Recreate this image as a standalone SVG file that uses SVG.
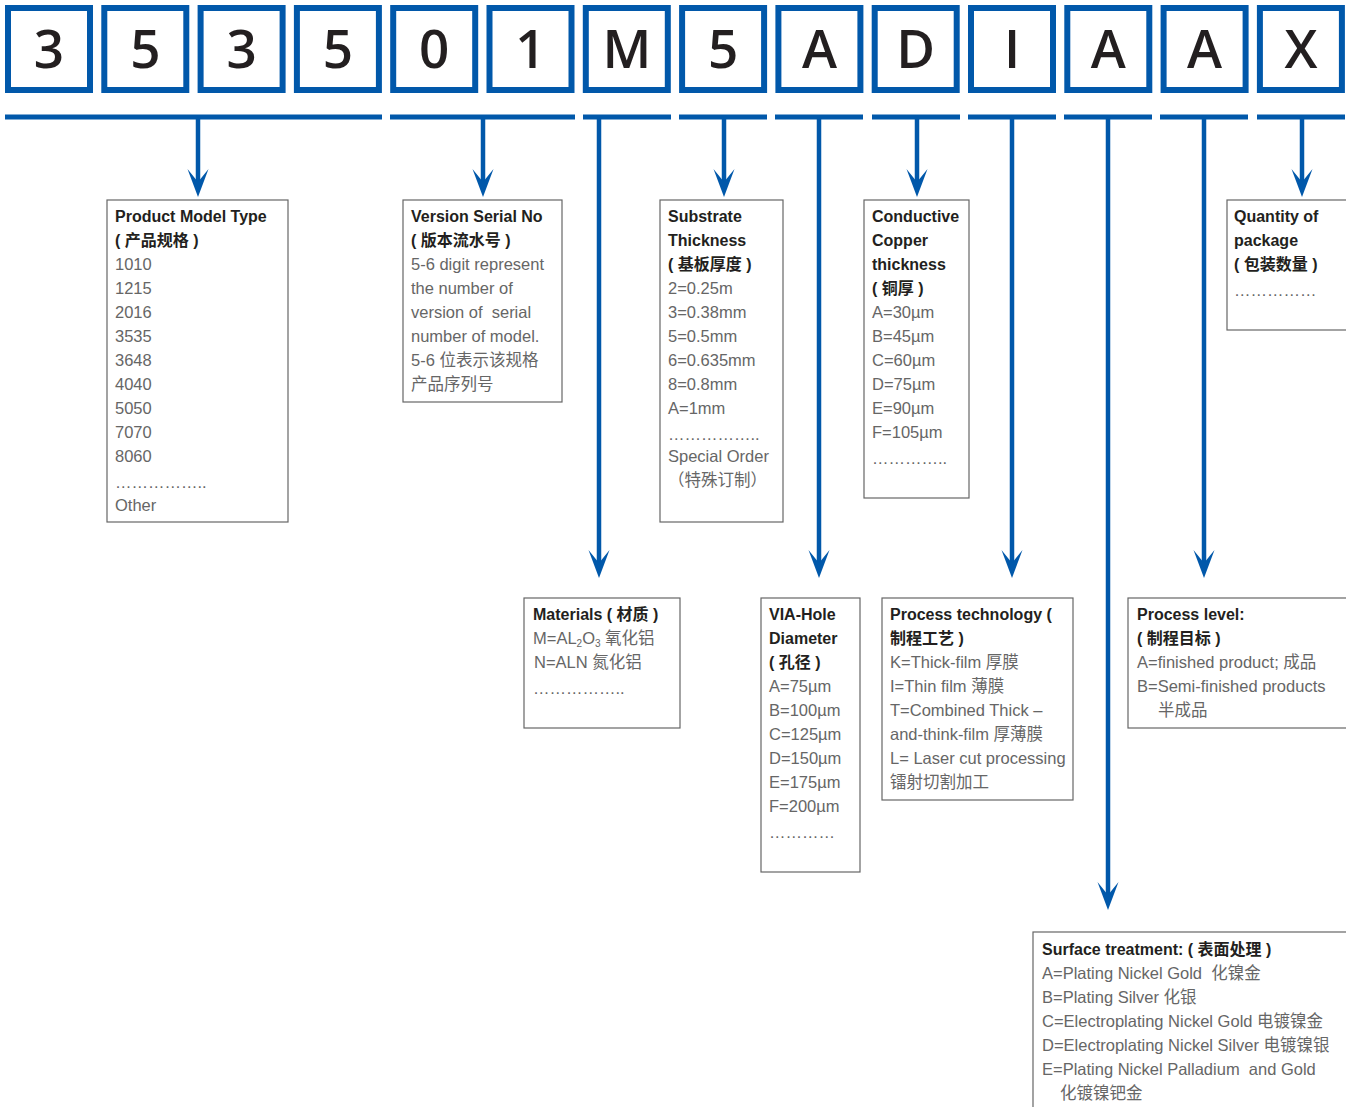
<svg xmlns="http://www.w3.org/2000/svg" width="1346" height="1107" viewBox="0 0 1346 1107">
<defs>
<style>
.code rect{fill:#fff;stroke:#0158aa;stroke-width:6}
.code text{font-family:"Open Sans","Liberation Sans",sans-serif;font-weight:600;font-size:53px;fill:#231f20;text-anchor:middle}
.bar{stroke:#0158aa;stroke-width:5;fill:none}
.vl{stroke:#0158aa;stroke-width:4.5;fill:none;marker-end:url(#ah)}
.box rect{fill:#fff;stroke:#666;stroke-width:1.2}
.t{font-family:"Liberation Sans","Noto Sans CJK SC",sans-serif;font-weight:bold;font-size:16px;fill:#231f20;white-space:pre}
.b{font-family:"Liberation Sans","Noto Sans CJK SC",sans-serif;font-size:16.5px;fill:#666;white-space:pre}
</style>
<marker id="ah" markerUnits="userSpaceOnUse" markerWidth="30" markerHeight="24" viewBox="-29 -12 30 24" refX="-15" refY="0" orient="auto">
<path d="M0,0 L-28,-10.5 L-15,0 L-28,10.5 Z" fill="#0158aa"/>
</marker>
</defs>

<g id="code">
<g class="code">
<rect x="8" y="8" width="82" height="82"/><text x="49" y="68">3</text>
<rect x="104.3" y="8" width="82" height="82"/><text x="145.3" y="68">5</text>
<rect x="200.6" y="8" width="82" height="82"/><text x="241.6" y="68">3</text>
<rect x="296.9" y="8" width="82" height="82"/><text x="337.9" y="68">5</text>
<rect x="393.2" y="8" width="82" height="82"/><text x="434.2" y="68">0</text>
<rect x="489.5" y="8" width="82" height="82"/><text x="530.5" y="68">1</text>
<rect x="585.8" y="8" width="82" height="82"/><text x="626.8" y="68">M</text>
<rect x="682.1" y="8" width="82" height="82"/><text x="723.1" y="68">5</text>
<rect x="778.4" y="8" width="82" height="82"/><text x="819.4" y="68">A</text>
<rect x="874.7" y="8" width="82" height="82"/><text x="915.7" y="68">D</text>
<rect x="971" y="8" width="82" height="82"/><text x="1012" y="68">I</text>
<rect x="1067.3" y="8" width="82" height="82"/><text x="1108.3" y="68">A</text>
<rect x="1163.6" y="8" width="82" height="82"/><text x="1204.6" y="68">A</text>
<rect x="1259.9" y="8" width="82" height="82"/><text x="1300.9" y="68">X</text>
</g>
</g>

<g id="connectors">
<line class="bar" x1="5" y1="117" x2="382" y2="117"/>
<line class="bar" x1="390" y1="117" x2="575" y2="117"/>
<line class="bar" x1="583" y1="117" x2="671" y2="117"/>
<line class="bar" x1="679" y1="117" x2="767" y2="117"/>
<line class="bar" x1="775" y1="117" x2="863" y2="117"/>
<line class="bar" x1="872" y1="117" x2="960" y2="117"/>
<line class="bar" x1="968" y1="117" x2="1056" y2="117"/>
<line class="bar" x1="1064" y1="117" x2="1152" y2="117"/>
<line class="bar" x1="1160" y1="117" x2="1248" y2="117"/>
<line class="bar" x1="1257" y1="117" x2="1345" y2="117"/>
<line class="vl" x1="198" y1="117" x2="198" y2="182"/>
<line class="vl" x1="483" y1="117" x2="483" y2="182"/>
<line class="vl" x1="599" y1="117" x2="599" y2="563"/>
<line class="vl" x1="724" y1="117" x2="724" y2="182"/>
<line class="vl" x1="819" y1="117" x2="819" y2="563"/>
<line class="vl" x1="917" y1="117" x2="917" y2="182"/>
<line class="vl" x1="1012" y1="117" x2="1012" y2="563"/>
<line class="vl" x1="1108" y1="117" x2="1108" y2="895"/>
<line class="vl" x1="1204" y1="117" x2="1204" y2="563"/>
<line class="vl" x1="1302" y1="117" x2="1302" y2="182"/>
</g>

<g id="product-model" class="box">
<rect x="107" y="200" width="181" height="322"/>
<text class="t" x="115" y="222">Product Model Type</text>
<text class="t" x="115" y="246">( 产品规格 )</text>
<text class="b" x="115" y="270">1010</text>
<text class="b" x="115" y="294">1215</text>
<text class="b" x="115" y="318">2016</text>
<text class="b" x="115" y="342">3535</text>
<text class="b" x="115" y="366">3648</text>
<text class="b" x="115" y="390">4040</text>
<text class="b" x="115" y="414">5050</text>
<text class="b" x="115" y="438">7070</text>
<text class="b" x="115" y="462">8060</text>
<text class="b" x="115" y="488">……………..</text>
<text class="b" x="115" y="511">Other</text>
</g>

<g id="version-serial" class="box">
<rect x="403" y="200" width="159" height="202"/>
<text class="t" x="411" y="222">Version Serial No</text>
<text class="t" x="411" y="246">( 版本流水号 )</text>
<text class="b" x="411" y="270">5-6 digit represent</text>
<text class="b" x="411" y="294">the number of</text>
<text class="b" x="411" y="318">version of  serial</text>
<text class="b" x="411" y="342">number of model.</text>
<text class="b" x="411" y="366">5-6 位表示该规格</text>
<text class="b" x="411" y="390">产品序列号</text>
</g>

<g id="substrate" class="box">
<rect x="660" y="200" width="123" height="322"/>
<text class="t" x="668" y="222">Substrate</text>
<text class="t" x="668" y="246">Thickness</text>
<text class="t" x="668" y="270">( 基板厚度 )</text>
<text class="b" x="668" y="294">2=0.25m</text>
<text class="b" x="668" y="318">3=0.38mm</text>
<text class="b" x="668" y="342">5=0.5mm</text>
<text class="b" x="668" y="366">6=0.635mm</text>
<text class="b" x="668" y="390">8=0.8mm</text>
<text class="b" x="668" y="414">A=1mm</text>
<text class="b" x="668" y="440">……………..</text>
<text class="b" x="668" y="462">Special Order</text>
<text class="b" x="668" y="486">（特殊订制）</text>
</g>

<g id="copper" class="box">
<rect x="864" y="200" width="105" height="298"/>
<text class="t" x="872" y="222">Conductive</text>
<text class="t" x="872" y="246">Copper</text>
<text class="t" x="872" y="270">thickness</text>
<text class="t" x="872" y="294">( 铜厚 )</text>
<text class="b" x="872" y="318">A=30µm</text>
<text class="b" x="872" y="342">B=45µm</text>
<text class="b" x="872" y="366">C=60µm</text>
<text class="b" x="872" y="390">D=75µm</text>
<text class="b" x="872" y="414">E=90µm</text>
<text class="b" x="872" y="438">F=105µm</text>
<text class="b" x="872" y="464">…………..</text>
</g>

<g id="quantity" class="box">
<rect x="1227" y="200" width="130" height="130"/>
<text class="t" x="1234" y="222">Quantity of</text>
<text class="t" x="1234" y="246">package</text>
<text class="t" x="1234" y="270">( 包装数量 )</text>
<text class="b" x="1234" y="296">……………</text>
</g>

<g id="materials" class="box">
<rect x="524" y="598" width="156" height="130"/>
<text class="t" x="533" y="620">Materials ( 材质 )</text>
<text class="b" x="533" y="644">M=AL<tspan font-size="10" dy="3">2</tspan><tspan dy="-3">O</tspan><tspan font-size="10" dy="3">3</tspan><tspan dy="-3"> 氧化铝</tspan></text>
<text class="b" x="534" y="668">N=ALN 氮化铝</text>
<text class="b" x="533" y="694">……………..</text>
</g>

<g id="via-hole" class="box">
<rect x="761" y="598" width="99" height="274"/>
<text class="t" x="769" y="620">VIA-Hole</text>
<text class="t" x="769" y="644">Diameter</text>
<text class="t" x="769" y="668">( 孔径 )</text>
<text class="b" x="769" y="692">A=75µm</text>
<text class="b" x="769" y="716">B=100µm</text>
<text class="b" x="769" y="740">C=125µm</text>
<text class="b" x="769" y="764">D=150µm</text>
<text class="b" x="769" y="788">E=175µm</text>
<text class="b" x="769" y="812">F=200µm</text>
<text class="b" x="769" y="838">…………</text>
</g>

<g id="process-tech" class="box">
<rect x="882" y="598" width="191" height="202"/>
<text class="t" x="890" y="620">Process technology (</text>
<text class="t" x="890" y="644">制程工艺 )</text>
<text class="b" x="890" y="668">K=Thick-film 厚膜</text>
<text class="b" x="890" y="692">I=Thin film 薄膜</text>
<text class="b" x="890" y="716">T=Combined Thick –</text>
<text class="b" x="890" y="740">and-think-film 厚薄膜</text>
<text class="b" x="890" y="764">L= Laser cut processing</text>
<text class="b" x="890" y="788">镭射切割加工</text>
</g>

<g id="process-level" class="box">
<rect x="1128" y="598" width="230" height="130"/>
<text class="t" x="1137" y="620">Process level:</text>
<text class="t" x="1137" y="644">( 制程目标 )</text>
<text class="b" x="1137" y="668">A=finished product; 成品</text>
<text class="b" x="1137" y="692">B=Semi-finished products</text>
<text class="b" x="1158" y="716">半成品</text>
</g>

<g id="surface" class="box">
<rect x="1033" y="932" width="330" height="190"/>
<text class="t" x="1042" y="955">Surface treatment: ( 表面处理 )</text>
<text class="b" x="1042" y="979">A=Plating Nickel Gold  化镍金</text>
<text class="b" x="1042" y="1003">B=Plating Silver 化银</text>
<text class="b" x="1042" y="1027">C=Electroplating Nickel Gold 电镀镍金</text>
<text class="b" x="1042" y="1051">D=Electroplating Nickel Silver 电镀镍银</text>
<text class="b" x="1042" y="1075">E=Plating Nickel Palladium  and Gold</text>
<text class="b" x="1060" y="1099">化镀镍钯金</text>
</g>
</svg>
